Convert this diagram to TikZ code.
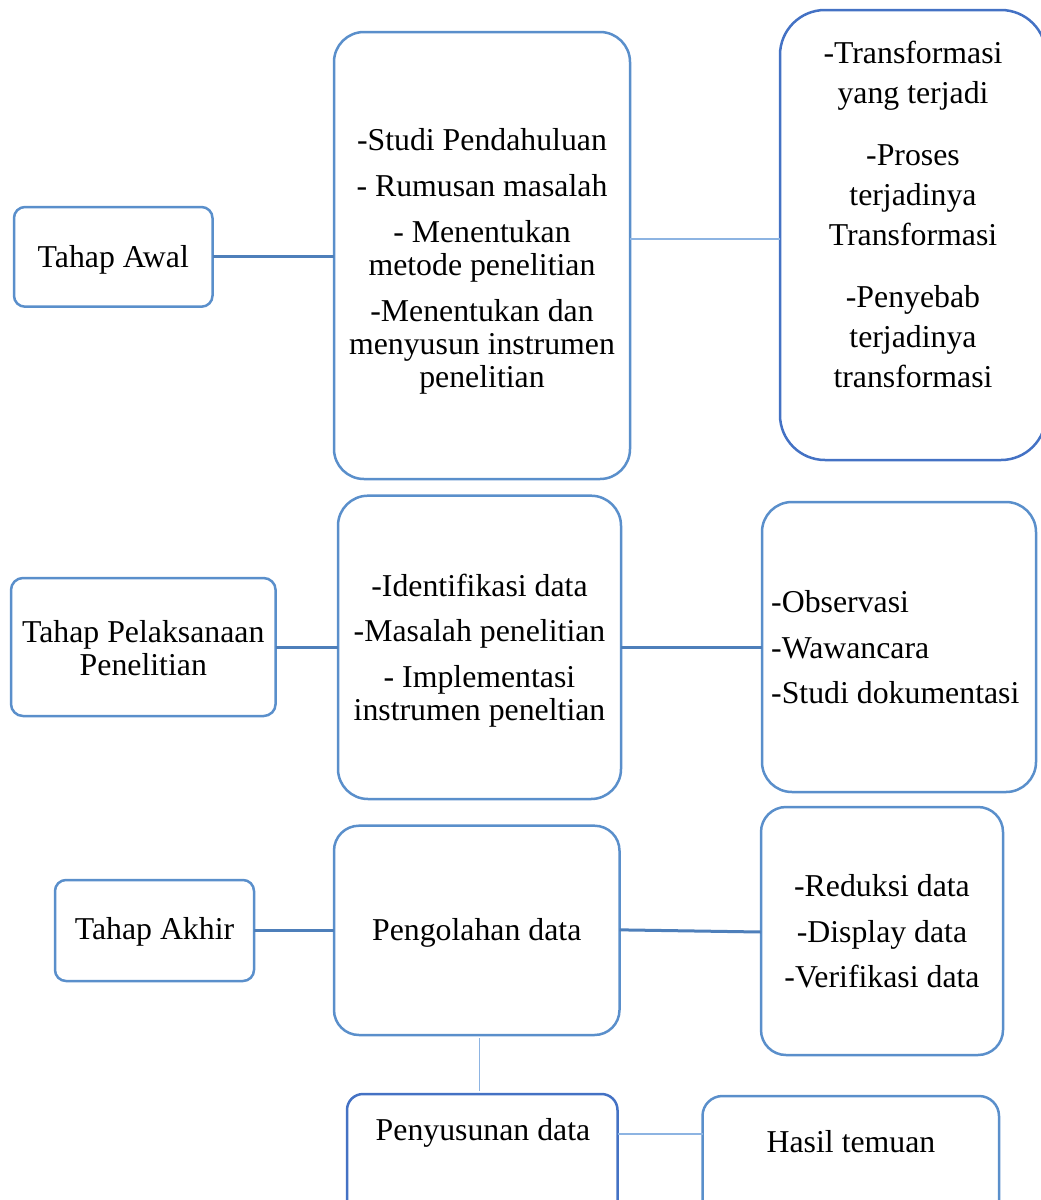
\documentclass[tikz,border=0pt]{standalone}
\usepackage{fontspec}
\setmainfont{Liberation Serif}
\definecolor{boxblue}{HTML}{5A8FCB}
\definecolor{darkblue}{HTML}{4472C4}
\definecolor{lineblue}{HTML}{4E7FBA}
\definecolor{paleblue}{HTML}{8DB4E2}

\begin{document}
\begin{tikzpicture}[x=1pt, y=-1pt,
  box/.style={draw=boxblue, line width=2.5pt, rounded corners=#1, inner sep=0pt, outer sep=0pt},
  box/.default=12pt,
  txt/.style={inner sep=0pt, align=center, font=\fontsize{31.8}{33}\selectfont},
  thickline/.style={draw=lineblue, line width=3pt},
  thinline/.style={draw=paleblue, line width=1.5pt}]

\useasboundingbox (0,0) rectangle (1041,1200);
\clip (0,0) rectangle (1041,1200);

% Tahap awal
\node[box=11pt, minimum width=198.5pt, minimum height=99.7pt] (awal) at (113.25,256.85) {};
\node[txt] (awalteks) at (113.25,259.5) {Tahap Awal};
\node[box=30pt, minimum width=296pt, minimum height=447pt] (studi) at (482,255.5) {};
\node[txt] (studiteks) at (482,261)
  {-Studi Pendahuluan\\[13pt]- Rumusan masalah\\[13pt]- Menentukan\\metode penelitian\\[13pt]%
   -Menentukan dan\\menyusun instrumen\\penelitian};
\node[box=45pt, draw=darkblue, minimum width=266pt, minimum height=450pt] (trans) at (913,235) {};
\node[txt, font=\fontsize{31.8}{40}\selectfont] (transteks) at (913,214.5)
  {-Transformasi\\yang terjadi\\[22pt]-Proses\\terjadinya\\Transformasi\\[22pt]%
   -Penyebab\\terjadinya\\transformasi};

% Tahap pelaksanaan
\node[box=12pt, minimum width=264.6pt, minimum height=138pt] (laksana) at (143.3,647) {};
\node[txt] (laksanateks) at (143.3,648) {Tahap Pelaksanaan\\Penelitian};
\node[box=30pt, minimum width=283pt, minimum height=303.3pt] (identif) at (479.5,647.35) {};
\node[txt] (identifteks) at (479.5,650.5)
  {-Identifikasi data\\[12.5pt]-Masalah penelitian\\[12.5pt]- Implementasi\\instrumen peneltian};
\node[box=30pt, minimum width=274pt, minimum height=290pt] (teknik) at (899,647) {};
\node[txt, align=left, anchor=west, font=\fontsize{31.8}{45.5}\selectfont] (teknikteks) at (771,647.5)
  {-Observasi\\-Wawancara\\-Studi dokumentasi};

% Tahap akhir
\node[box=11pt, minimum width=199pt, minimum height=101pt] (akhir) at (154.5,930.5) {};
\node[txt] (akhirteks) at (154.5,932) {Tahap Akhir};
\node[box=25pt, minimum width=285.5pt, minimum height=209.3pt] (olah) at (476.75,930.35) {};
\node[txt] (olahteks) at (476.75,932.5) {Pengolahan data};
\node[box=25pt, minimum width=242pt, minimum height=248pt] (reduksi) at (882,931) {};
\node[txt] (reduksiteks) at (882,931.5)
  {-Reduksi data\\[12.5pt]-Display data\\[12.5pt]-Verifikasi data};
\node[box=16pt, draw=darkblue, minimum width=270.5pt, minimum height=146pt] (susun) at (482.25,1167) {};
\node[txt] (susunteks) at (483,1132.5) {Penyusunan data};
\node[box=20pt, minimum width=296.5pt, minimum height=144pt] (hasil) at (850.75,1168) {};
\node[txt] (hasilteks) at (851,1142) {Hasil temuan};

% Connectors
\draw[thickline] (awal.east) -- (awal.east -| studi.west);
\draw[thinline] ([yshift=16.5pt]studi.east) -- ([yshift=16.5pt]studi.east -| trans.west);
\draw[thickline] (laksana.east) -- (laksana.east -| identif.west);
\draw[thickline] (identif.east) -- (identif.east -| teknik.west);
\draw[thickline] (akhir.east) -- (akhir.east -| olah.west);
\draw[thickline] ([yshift=0.5pt]olah.east) -- ([yshift=-1pt]reduksi.west);
\draw[thinline, shorten <=3pt, shorten >=3pt] ([xshift=2.5pt]olah.south) -- ([xshift=2.5pt]olah.south |- susun.north);
\draw[thinline] ([yshift=33pt]susun.east) -- ([yshift=33pt]susun.east -| hasil.west);

\end{tikzpicture}
\end{document}
